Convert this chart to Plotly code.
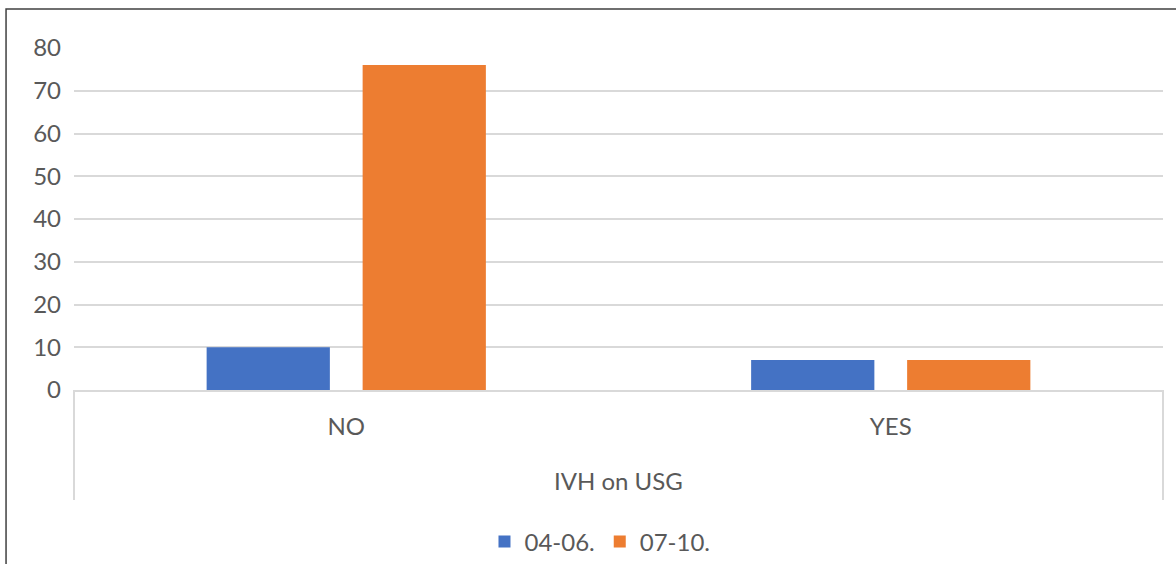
import plotly.graph_objects as go

# IVH finding on ultrasound, counts per gestation period
categories = ["NO", "YES"]
period_04_06 = [10, 7]
period_07_10 = [76, 7]
series_names = ["04-06.", "07-10."]
y_ticks = [0, 10, 20, 30, 40, 50, 60, 70, 80]

FONT = "Lato"
TEXT = "#595959"
GRID = "#D9D9D9"
SIZE = 24

fig = go.Figure()
fig.add_trace(go.Bar(x=categories, y=period_04_06, name=series_names[0],
                     marker=dict(color="#4472C4", line=dict(width=0))))
fig.add_trace(go.Bar(x=categories, y=period_07_10, name=series_names[1],
                     marker=dict(color="#ED7D31", line=dict(width=0))))

fig.update_layout(
    width=1176, height=564,
    margin=dict(l=74, r=13, t=48, b=174, autoexpand=False),
    paper_bgcolor="white", plot_bgcolor="white",
    barmode="group", bargap=0.427, bargroupgap=0.21,
    font=dict(family=FONT, size=SIZE, color=TEXT),
    showlegend=True,
    legend=dict(orientation="h", x=0.483, xanchor="center", y=-0.444, yanchor="middle",
                font=dict(size=SIZE, color=TEXT), itemwidth=30, traceorder="normal"),
    xaxis=dict(showline=True, linecolor=GRID, linewidth=2, ticks="",
               ticklabelstandoff=14, tickfont=dict(size=SIZE, color=TEXT)),
    yaxis=dict(range=[0, 80], tickvals=y_ticks, showgrid=True, gridcolor=GRID,
               gridwidth=2, zeroline=False, ticks="", ticklabelstandoff=12,
               tickfont=dict(size=SIZE, color=TEXT), fixedrange=True),
)

# category axis title
fig.add_annotation(text="IVH on USG", xref="paper", yref="paper", x=0.5, y=-0.266,
                   showarrow=False, font=dict(size=SIZE, color=TEXT),
                   xanchor="center", yanchor="middle")

# category bracket lines below the axis
for xp in (0, 1):
    fig.add_shape(type="line", xref="paper", yref="paper", x0=xp, x1=xp, y0=0, y1=-0.322,
                  line=dict(color=GRID, width=2))

# chart frame
fig.add_shape(type="rect", xref="paper", yref="paper", x0=-0.0624, x1=1.03, y0=-0.6, y1=1.114,
              line=dict(color="#404040", width=1.5), fillcolor="rgba(0,0,0,0)", layer="below")

fig.write_html("out.html")
